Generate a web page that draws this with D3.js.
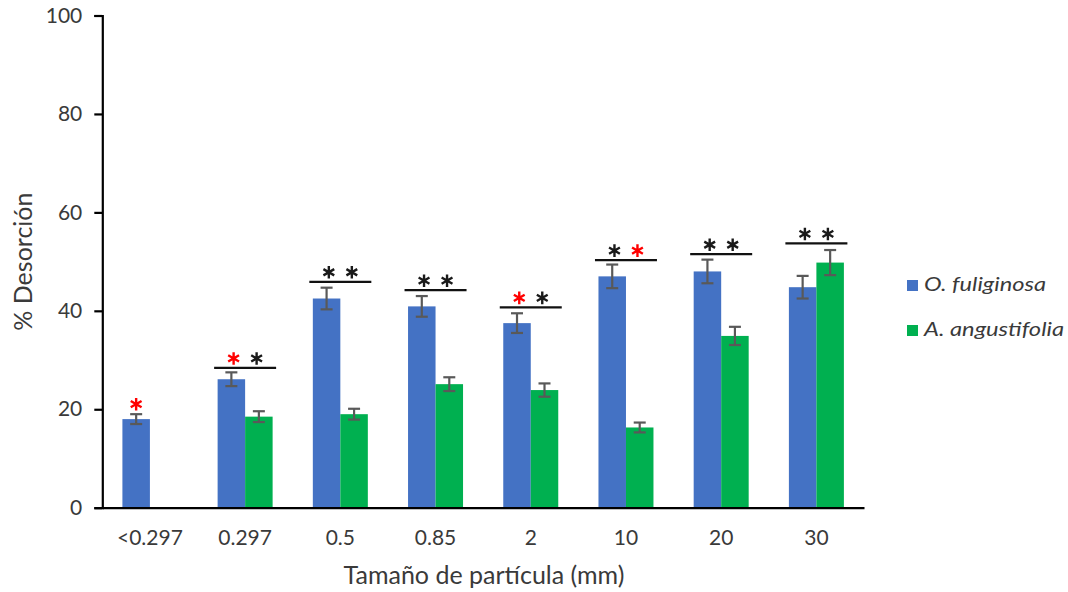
<!DOCTYPE html>
<html>
<head>
<meta charset="utf-8">
<script src="https://cdn.jsdelivr.net/npm/d3@7/dist/d3.min.js"></script>
<style>
  html, body { margin: 0; padding: 0; background: #fff; }
  svg { display: block; font-family: Lato, "Open Sans", sans-serif; }
</style>
</head>
<body>
<svg id="chart" width="1068" height="592"></svg>
<script>
// Particle size classes (mm)
const categories = ["<0.297", "0.297", "0.5", "0.85", "2", "10", "20", "30"];

// % desorption, mean and error per species
const fuliginosa    = [18.0, 26.1, 42.5, 40.9, 37.5, 47.0, 48.0, 44.8];
const fuliginosaErr = [1.0, 1.4, 2.2, 2.1, 2.0, 2.4, 2.4, 2.3];
const angustifolia    = [null, 18.5, 19.0, 25.1, 23.9, 16.3, 34.9, 49.8];
const angustifoliaErr = [null, 1.1, 1.1, 1.4, 1.35, 1.0, 1.85, 2.55];

// Significance bracket level per class and the asterisks above it
const bracketLevel = [null, 28.4, 45.9, 44.2, 40.7, 50.3, 51.5, 53.7];
const asteriskColors = [
  ["red"], ["red", "black"], ["black", "black"], ["black", "black"],
  ["red", "black"], ["black", "red"], ["black", "black"], ["black", "black"]
];

const seriesNames = ["O. fuliginosa", "A. angustifolia"];
const yTicks = [0, 20, 40, 60, 80, 100];

const colors = { "O. fuliginosa": "#4472C4", "A. angustifolia": "#00B050" };
const starColors = { red: "#FF0000", black: "#1a1a1a" };
const textColor = "#3a3a3a";

const svg = d3.select("#chart");
const plotLeft = 102.3, plotRight = 864, plotTop = 15.5, plotBottom = 507.7;

const x = d3.scaleBand().domain(categories).range([plotLeft, plotRight]).padding(0);
const bw = x.bandwidth();
const barW = 27.5;
const x1 = d3.scaleBand().domain(seriesNames)
  .range([bw / 2 - barW, bw / 2 + barW]).padding(0);
const y = d3.scaleLinear().domain([0, 100]).range([plotBottom, plotTop]);

const rows = categories.map((c, i) => ({
  cat: c,
  values: [
    { s: seriesNames[0], v: fuliginosa[i], e: fuliginosaErr[i] },
    { s: seriesNames[1], v: angustifolia[i], e: angustifoliaErr[i] }
  ].filter(d => d.v != null)
}));

// Bars
const groups = svg.append("g").selectAll("g").data(rows).join("g")
  .attr("transform", d => `translate(${x(d.cat)},0)`);

groups.selectAll("rect").data(d => d.values).join("rect")
  .attr("x", d => x1(d.s))
  .attr("y", d => y(d.v))
  .attr("width", x1.bandwidth())
  .attr("height", d => y(0) - y(d.v))
  .attr("fill", d => colors[d.s]);

// Error bars
const eb = groups.selectAll("g.err").data(d => d.values).join("g")
  .attr("class", "err")
  .attr("stroke", "#595959")
  .attr("stroke-width", 2.2)
  .attr("fill", "none");
const cap = 6;
eb.append("line")
  .attr("x1", d => x1(d.s) + x1.bandwidth() / 2)
  .attr("x2", d => x1(d.s) + x1.bandwidth() / 2)
  .attr("y1", d => y(d.v + d.e)).attr("y2", d => y(d.v - d.e));
eb.append("line")
  .attr("x1", d => x1(d.s) + x1.bandwidth() / 2 - cap)
  .attr("x2", d => x1(d.s) + x1.bandwidth() / 2 + cap)
  .attr("y1", d => y(d.v + d.e)).attr("y2", d => y(d.v + d.e));
eb.append("line")
  .attr("x1", d => x1(d.s) + x1.bandwidth() / 2 - cap)
  .attr("x2", d => x1(d.s) + x1.bandwidth() / 2 + cap)
  .attr("y1", d => y(d.v - d.e)).attr("y2", d => y(d.v - d.e));

// Significance brackets and asterisks
const star = d3.symbol().type(d3.symbolAsterisk).size(110);
categories.forEach((c, i) => {
  const cx = x(c) + bw / 2;
  const g = svg.append("g");
  if (bracketLevel[i] != null) {
    const ly = y(bracketLevel[i]);
    g.append("line")
      .attr("x1", cx - 31).attr("x2", cx + 31)
      .attr("y1", ly).attr("y2", ly)
      .attr("stroke", "#111").attr("stroke-width", 2.2);
    asteriskColors[i].forEach((col, k) => {
      const sx = cx + (k === 0 ? -11.5 : 11.5);
      g.append("path").attr("d", star)
        .attr("transform", `translate(${sx},${ly - 9.5})`)
        .attr("fill", "none")
        .attr("stroke", starColors[col]).attr("stroke-width", 2.4);
    });
  } else {
    const bx = x(c) + x1(seriesNames[0]) + x1.bandwidth() / 2;
    const sy = y(fuliginosa[i] + fuliginosaErr[i]) - 10;
    g.append("path").attr("d", star)
      .attr("transform", `translate(${bx},${sy})`)
      .attr("fill", "none")
      .attr("stroke", starColors[asteriskColors[i][0]]).attr("stroke-width", 2.4);
  }
});

// Y axis
const yAxis = svg.append("g")
  .attr("transform", `translate(${plotLeft},0)`)
  .call(d3.axisLeft(y).tickValues(yTicks).tickSize(8).tickPadding(12));
yAxis.select(".domain").attr("stroke", "#000").attr("stroke-width", 2.2);
yAxis.selectAll(".tick line").attr("stroke", "#000").attr("stroke-width", 2.2);
yAxis.selectAll(".tick text")
  .attr("font-size", 21).attr("fill", textColor)
  .attr("font-family", "Lato, sans-serif");

// X axis
const xAxis = svg.append("g")
  .attr("transform", `translate(0,${plotBottom})`)
  .call(d3.axisBottom(x).tickSize(0).tickPadding(22));
xAxis.select(".domain").attr("stroke", "#000").attr("stroke-width", 2.2);
xAxis.selectAll(".tick text")
  .attr("font-size", 21).attr("fill", textColor)
  .attr("font-family", "Lato, sans-serif");

// Axis titles
svg.append("text")
  .attr("x", 484).attr("y", 584)
  .attr("text-anchor", "middle")
  .attr("font-size", 25).attr("fill", textColor)
  .text("Tamaño de partícula (mm)");

svg.append("text")
  .attr("transform", `translate(32,${(plotTop + plotBottom) / 2}) rotate(-90)`)
  .attr("text-anchor", "middle")
  .attr("font-size", 25).attr("fill", textColor)
  .text("% Desorción");

// Legend
const legendWidths = { "O. fuliginosa": 122, "A. angustifolia": 140 };
const legend = svg.append("g").selectAll("g").data(seriesNames).join("g")
  .attr("transform", (d, i) => `translate(907,${280 + i * 45})`);
legend.append("rect")
  .attr("width", 11).attr("height", 11)
  .attr("fill", d => colors[d]);
legend.append("text")
  .attr("x", 17).attr("y", 11)
  .attr("font-size", 20).attr("font-style", "italic").attr("fill", textColor)
  .attr("textLength", d => legendWidths[d])
  .attr("lengthAdjust", "spacingAndGlyphs")
  .text(d => d);
</script>
</body>
</html>
